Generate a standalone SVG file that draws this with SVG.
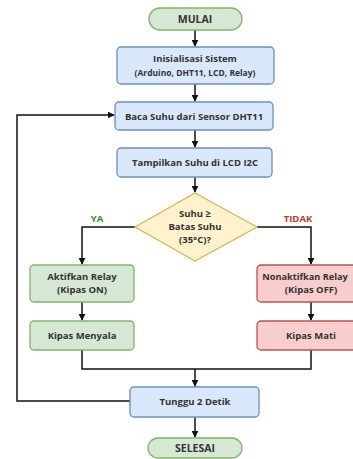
<svg xmlns="http://www.w3.org/2000/svg" width="353" height="459" viewBox="0 0 353 459">
<defs>
<marker id="ah" viewBox="0 0 10 10" refX="9" refY="5" markerWidth="7" markerHeight="7" orient="auto" markerUnits="userSpaceOnUse"><path d="M0,0 L10,5 L0,10 z" fill="#111"/></marker>
<style>
text{font-family:"Open Sans","Noto Sans","Liberation Sans",sans-serif;font-weight:bold;fill:#333;text-anchor:middle;font-size:9.5px}
.big{font-size:10.5px}
.blue{fill:#dae8fc;stroke:#6c8ebf;stroke-width:1.3}
.green{fill:#d5e8d4;stroke:#82b366;stroke-width:1.3}
.red{fill:#f8cecc;stroke:#b85450;stroke-width:1.3}
.yellow{fill:#fff2cc;stroke:#d6b656;stroke-width:1.3}
.c{fill:none;stroke:#111;stroke-width:1.5}
</style>
</defs>
<rect width="353" height="459" fill="#ffffff"/>
<g id="connectors">
<path class="c" d="M195,30 V46" marker-end="url(#ah)"/>
<path class="c" d="M195,84 V101" marker-end="url(#ah)"/>
<path class="c" d="M195,130 V147" marker-end="url(#ah)"/>
<path class="c" d="M195,177 V192" marker-end="url(#ah)"/>
<path class="c" d="M135,227 H82 V264" marker-end="url(#ah)"/>
<path class="c" d="M257,227 H311 V264" marker-end="url(#ah)"/>
<path class="c" d="M82,302 V320" marker-end="url(#ah)"/>
<path class="c" d="M311,302 V320" marker-end="url(#ah)"/>
<path class="c" d="M82,350 V369 H311 V350"/>
<path class="c" d="M195,369 V386" marker-end="url(#ah)"/>
<path class="c" d="M130,401 H17 V115 H114" marker-end="url(#ah)"/>
<path class="c" d="M195,417 V437" marker-end="url(#ah)"/>
<text x="97" y="222" style="fill:#3a8a3a">YA</text>
<text x="298" y="222" style="fill:#c0392b">TIDAK</text>
</g>
<g id="mulai"><rect class="green" x="149" y="8" width="93" height="22" rx="11"/><text class="big" x="195" y="23">MULAI</text></g>
<g id="init"><rect class="blue" x="117" y="47" width="157" height="37" rx="4"/><text x="195" y="62">Inisialisasi Sistem</text><text x="195" y="76" style="font-size:8.5px">(Arduino, DHT11, LCD, Relay)</text></g>
<g id="baca"><rect class="blue" x="115" y="102" width="158" height="28" rx="4"/><text x="194" y="119.5">Baca Suhu dari Sensor DHT11</text></g>
<g id="tampil"><rect class="blue" x="117" y="148" width="155" height="29" rx="4"/><text x="195" y="165.5">Tampilkan Suhu di LCD I2C</text></g>
<g id="decision"><polygon class="yellow" points="195,193 257,227 195,261 135,227"/><text x="195" y="217">Suhu ≥</text><text x="195" y="230">Batas Suhu</text><text x="195" y="243">(35°C)?</text></g>
<g id="aktif"><rect class="green" x="30" y="265" width="104" height="37" rx="4"/><text x="82" y="280">Aktifkan Relay</text><text x="82" y="293">(Kipas ON)</text></g>
<g id="menyala"><rect class="green" x="30" y="321" width="104" height="29" rx="4"/><text x="82" y="338.5">Kipas Menyala</text></g>
<g id="nonaktif"><rect class="red" x="257" y="265" width="108" height="37" rx="4"/><text x="305" y="280" style="font-size:9.2px">Nonaktifkan Relay</text><text x="311" y="293">(Kipas OFF)</text></g>
<g id="mati"><rect class="red" x="257" y="321" width="108" height="29" rx="4"/><text x="311" y="338.5">Kipas Mati</text></g>
<g id="tunggu"><rect class="blue" x="130" y="387" width="129" height="30" rx="4"/><text x="195" y="405">Tunggu 2 Detik</text></g>
<g id="selesai"><rect class="green" x="148" y="438" width="94" height="20" rx="10"/><text class="big" x="195" y="451.8">SELESAI</text></g>
</svg>
